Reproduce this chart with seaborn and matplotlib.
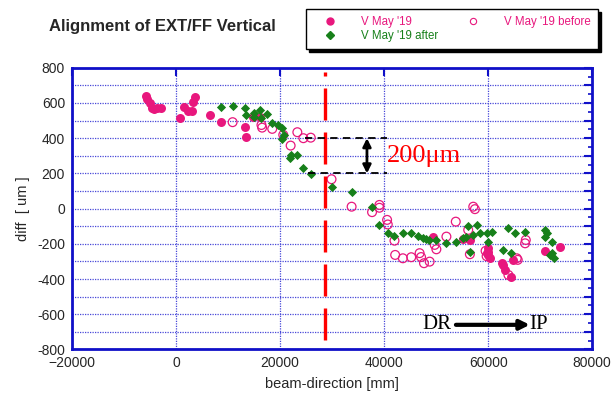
"""
Alignment of EXT/FF vertical offsets along the beam line.
"""

import numpy as np
import pandas as pd
import matplotlib
matplotlib.use('Agg')
import matplotlib.pyplot as plt
from matplotlib.lines import Line2D
from matplotlib.ticker import MultipleLocator, FuncFormatter
import seaborn as sns

# --- data (beam position [mm], diff [um]) ---
may_x = [-5800, -5540, -5020, -4700, -4200, -3730, -2960,
         770, 1600, 2380, 3030, 3350, 3670,
         6570, 8690, 13330, 13530, 14810, 16100,
         49390, 55190, 56480,
         59700, 60020, 60020, 60020, 60340,
         62600, 62930, 63250, 64400, 64850,
         70970, 73870]
may_y = [640, 621, 599, 570, 565, 570, 574,
         513, 580, 557, 557, 608, 636,
         532, 491, 466, 409, 519, 523,
         -162, -175, -178,
         -253, -225, -245, -265, -280,
         -310, -320, -348, -390, -291,
         -238, -219]

after_x = [8690, 10880, 13330, 13530, 14940, 15070, 16230, 16360, 17520,
           18490, 19570, 20420, 20420, 20730, 21900, 22030, 23220, 24480,
           25900, 29890, 33750, 37680, 39090, 40700, 41990, 43600, 45210,
           46600, 47470, 48100, 48550, 50040, 51970, 53900, 55190, 55830,
           56160, 56480, 57130, 57770, 58410, 59700, 60660, 60020, 62930,
           63760, 64400, 65170, 67100, 70970, 70970, 71290, 72260, 72260,
           72580, 71930]
after_y = [576, 585, 570, 532, 542, 523, 561, 513, 538,
           485, 475, 457, 396, 419, 290, 305, 305, 229,
           195, 122, 97, 11, -93, -140, -155, -140, -136,
           -155, -168, -174, -178, -178, -197, -187, -168, -159,
           -97, -244, -149, -93, -140, -140, -131, -187, -235,
           -111, -253, -140, -131, -121, -159, -140, -187, -253,
           -282, -263]

before_x = [10880, 16420, 16550, 18490, 20610, 22030, 23320, 24480, 25900,
            29890, 33750, 37680, 39090, 39090, 40570, 40700, 41990, 42120,
            43600, 45210, 46820, 47100, 47660, 48750, 49720, 50040, 51970,
            53770, 56160, 57130, 57450, 56480, 59500, 59700, 65490, 65680,
            63890, 67100, 67230]
before_y = [491, 475, 460, 453, 419, 358, 434, 400, 403,
            167, 11, -20, 21, 5, -64, -90, -182, -263,
            -282, -276, -253, -275, -310, -301, -206, -231, -159,
            -74, -121, 11, -3, -259, -240, -270, -282, -291,
            -377, -197, -178]

split_x = 28700          # red dashed separator
step_lo, step_hi = 200, 400
labels = ["V May '19", "V May '19 after", "V May '19 before"]

PINK = '#E8177D'
GREEN = '#17801A'
BLUE = '#1010C8'
GRID = '#4848D8'

sns.set_style("white")
plt.rcParams['font.family'] = ['Liberation Sans', 'DejaVu Sans']

df_may = pd.DataFrame({'x': may_x, 'y': may_y})
df_after = pd.DataFrame({'x': after_x, 'y': after_y})
df_before = pd.DataFrame({'x': before_x, 'y': before_y})

fig = plt.figure(figsize=(6.15, 3.94), dpi=100)
ax = fig.add_axes([0.117, 0.113, 0.846, 0.715])

sns.scatterplot(data=df_before, x='x', y='y', ax=ax, marker='o', s=40,
                facecolors='none', edgecolor=PINK, linewidth=0.9, zorder=3)
sns.scatterplot(data=df_may, x='x', y='y', ax=ax, marker='o', s=42,
                color=PINK, edgecolor=PINK, linewidth=0, zorder=4)
sns.scatterplot(data=df_after, x='x', y='y', ax=ax, marker='D', s=22,
                color=GREEN, edgecolor=GREEN, linewidth=0, zorder=5)

# axes, ticks, grid
ax.set_xlim(-20000, 80000)
ax.set_ylim(-800, 800)
ax.xaxis.set_major_locator(MultipleLocator(20000))
ax.yaxis.set_major_locator(MultipleLocator(100))
ax.yaxis.set_minor_locator(MultipleLocator(50))
ax.yaxis.set_major_formatter(FuncFormatter(
    lambda v, p: f'{int(v)}' if int(round(v)) % 200 == 0 else ''))
ax.grid(True, which='major', color=GRID, linestyle=(0, (1, 1)), linewidth=0.9)
for s in ax.spines.values():
    s.set_color(BLUE)
    s.set_linewidth(2)
ax.tick_params(which='both', direction='in', color=BLUE, top=True, right=True,
               labelsize=10, pad=5)
ax.tick_params(which='major', length=6, width=1.5)
ax.tick_params(which='minor', length=3, width=1.2)
ax.set_xlabel('beam-direction [mm]', fontsize=10.5, labelpad=5)
ax.set_ylabel('diff  [ um ]', fontsize=10.5, labelpad=5)

# annotations
ax.plot([split_x, split_x], [778, -770], color='red', linewidth=2.4,
        linestyle=(8.4, (9.6, 3.6)), zorder=6)
ax.plot([24800, 40500], [step_hi, step_hi], color='black', lw=1.3,
        linestyle=(0, (4, 3)), zorder=6)
ax.plot([25400, 40500], [step_lo, step_lo], color='black', lw=1.3,
        linestyle=(0, (4, 3)), zorder=6)
ax.annotate('', xy=(36700, step_lo), xytext=(36700, step_hi),
            arrowprops=dict(arrowstyle='<|-|>', color='black', lw=2,
                            mutation_scale=12, shrinkA=0, shrinkB=0), zorder=7)
ax.text(40600, 300, '200\u03bcm', color='red', fontsize=19, va='center',
        family=['Liberation Serif', 'DejaVu Serif'], zorder=7)
ax.text(47400, -660, 'DR', color='black', fontsize=15, va='center',
        family=['Liberation Serif', 'DejaVu Serif'], zorder=7)
ax.text(67900, -660, 'IP', color='black', fontsize=15, va='center',
        family=['Liberation Serif', 'DejaVu Serif'], zorder=7)
ax.annotate('', xy=(68000, -660), xytext=(53800, -660),
            arrowprops=dict(arrowstyle='-|>', color='black', lw=3,
                            mutation_scale=14, shrinkA=0, shrinkB=0), zorder=7)

# title and legend
fig.text(0.079, 0.933, 'Alignment of EXT/FF Vertical', fontsize=12,
         fontweight='bold', va='center')
handles = [
    Line2D([], [], marker='o', linestyle='none', color=PINK, markersize=5),
    Line2D([], [], marker='D', linestyle='none', color=GREEN, markersize=4),
    Line2D([], [], marker='o', linestyle='none', markerfacecolor='none',
           markeredgecolor=PINK, markersize=4.5, markeredgewidth=0.8),
]
leg = fig.legend(handles, labels, ncol=2, loc='upper left',
                 bbox_to_anchor=(0.4976, 0.977), borderaxespad=0,
                 frameon=True, fontsize=8.3, fancybox=False,
                 shadow={'color': 'black', 'alpha': 1}, edgecolor='black',
                 handlelength=3, handletextpad=1.2, columnspacing=1.5,
                 labelspacing=0.2, borderpad=0.6)
leg.get_frame().set_linewidth(1.0)
for t, c in zip(leg.get_texts(), [PINK, GREEN, PINK]):
    t.set_color(c)

plt.savefig('out.png', dpi=100)
plt.close()
